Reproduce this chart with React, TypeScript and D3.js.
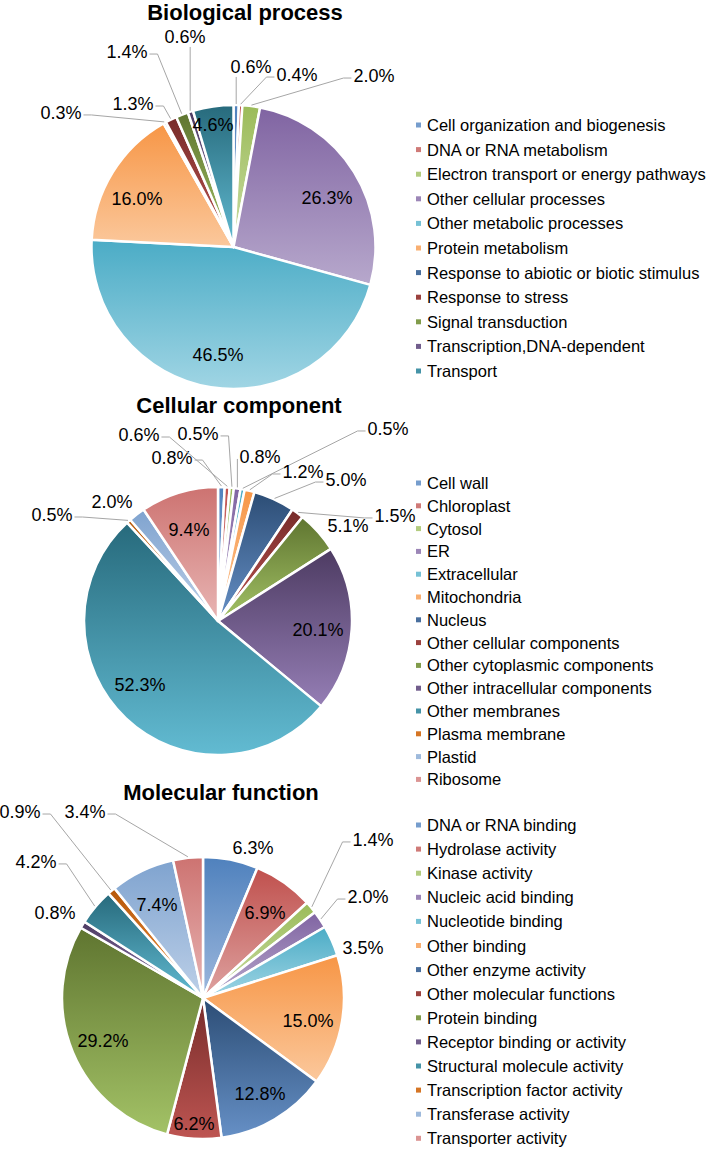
import React from 'react';
import * as d3 from 'd3';

// ---------- DATA ----------
const bpCategories = [
  'Cell organization and biogenesis',
  'DNA or RNA metabolism',
  'Electron transport or energy pathways',
  'Other cellular processes',
  'Other metabolic processes',
  'Protein metabolism',
  'Response to abiotic or biotic stimulus',
  'Response to stress',
  'Signal transduction',
  'Transcription,DNA-dependent',
  'Transport',
];
const bpValues = [0.6, 0.4, 2.0, 26.3, 46.5, 16.0, 0.3, 1.3, 1.4, 0.6, 4.6];

const ccCategories = [
  'Cell wall',
  'Chloroplast',
  'Cytosol',
  'ER',
  'Extracellular',
  'Mitochondria',
  'Nucleus',
  'Other cellular components',
  'Other cytoplasmic components',
  'Other intracellular components',
  'Other membranes',
  'Plasma membrane',
  'Plastid',
  'Ribosome',
];
const ccValues = [0.8, 0.6, 0.5, 0.8, 0.5, 1.2, 5.0, 1.5, 5.1, 20.1, 52.3, 0.5, 2.0, 9.4];

const mfCategories = [
  'DNA or RNA binding',
  'Hydrolase activity',
  'Kinase activity',
  'Nucleic acid binding',
  'Nucleotide binding',
  'Other binding',
  'Other enzyme activity',
  'Other molecular functions',
  'Protein binding',
  'Receptor binding or activity',
  'Structural molecule activity',
  'Transcription factor activity',
  'Transferase activity',
  'Transporter activity',
];
const mfValues = [6.3, 6.9, 1.4, 2.0, 3.5, 15.0, 12.8, 6.2, 29.2, 0.8, 4.2, 0.9, 7.4, 3.4];

const chartTitles = ['Biological process', 'Cellular component', 'Molecular function'];

// ---------- STYLE / LAYOUT ----------
// gradient [top, bottom] per series index (Office palette)
const palette: [string, string][] = [
  ['#4F81BD', '#9DB8DD'],
  ['#C0504D', '#DEA3A1'],
  ['#9BBB59', '#CADDA5'],
  ['#8064A2', '#B7A8CC'],
  ['#4BACC6', '#A0D5E4'],
  ['#F79646', '#FBC89C'],
  ['#2C4D75', '#6690C6'],
  ['#772C2A', '#BE5552'],
  ['#5F7530', '#A3C266'],
  ['#4D3B62', '#957EB5'],
  ['#276A7C', '#62BBD2'],
  ['#B65708', '#F3923F'],
  ['#7FA3CF', '#BDD0E8'],
  ['#CD7371', '#E8B5B4'],
];

// label placement relative to pie centre, in units of radius: [fx, fy, leader]
const bpLabelPos: [number, number, boolean][] = [
  [0.123, -1.268, true],
  [0.447, -1.211, true],
  [0.989, -1.204, true],
  [0.658, -0.345, false],
  [-0.109, 0.761, false],
  [-0.68, -0.338, false],
  [-1.215, -0.944, true],
  [-0.708, -1.007, true],
  [-0.75, -1.373, true],
  [-0.342, -1.479, true],
  [-0.144, -0.859, false],
];
const ccLabelPos: [number, number, boolean][] = [
  [-0.343, -1.216, true],
  [-0.59, -1.388, true],
  [-0.149, -1.396, true],
  [0.313, -1.224, true],
  [1.269, -1.433, true],
  [0.634, -1.112, true],
  [0.955, -1.052, true],
  [1.321, -0.784, true],
  [0.97, -0.709, false],
  [0.746, 0.067, false],
  [-0.582, 0.478, false],
  [-1.239, -0.791, true],
  [-0.791, -0.888, false],
  [-0.216, -0.679, false],
];
const mfLabelPos: [number, number, boolean][] = [
  [0.355, -1.064, false],
  [0.44, -0.603, false],
  [1.206, -1.121, true],
  [1.17, -0.716, true],
  [1.135, -0.355, false],
  [0.745, 0.163, false],
  [0.404, 0.681, false],
  [-0.064, 0.894, false],
  [-0.709, 0.305, false],
  [-1.05, -0.603, false],
  [-1.184, -0.965, true],
  [-1.298, -1.319, true],
  [-0.326, -0.66, false],
  [-0.837, -1.319, true],
];

const charts = [
  { title: chartTitles[0], cats: bpCategories, vals: bpValues, cx: 233.5, cy: 247, r: 142, tx: 245, ty: 20, lx: 416, ly0: 125, lstep: 24.6, pos: bpLabelPos },
  { title: chartTitles[1], cats: ccCategories, vals: ccValues, cx: 218, cy: 621, r: 134, tx: 239, ty: 413, lx: 416, ly0: 483, lstep: 22.8, pos: ccLabelPos },
  { title: chartTitles[2], cats: mfCategories, vals: mfValues, cx: 203, cy: 998, r: 141, tx: 221, ty: 800, lx: 416, ly0: 825, lstep: 24.1, pos: mfLabelPos },
];

const FONT = "'Liberation Sans', Arial, Helvetica, sans-serif";
const LABEL_FS = 18;

function textWidth(s: string, fs: number) {
  let w = 0;
  for (const ch of s) {
    if (ch === '.') w += 0.278;
    else if (ch === '%') w += 0.889;
    else w += 0.556;
  }
  return w * fs;
}

function PieChart({ c }: { c: (typeof charts)[number] }) {
  const pie = d3.pie<number>().sort(null).value((d) => d);
  const arcs = pie(c.vals);
  const arcGen = d3.arc<d3.PieArcDatum<number>>().innerRadius(0).outerRadius(c.r);
  return (
    <g>
      <text x={c.tx} y={c.ty} textAnchor="middle" fontWeight="bold" fontSize={22} fill="#000">
        {c.title}
      </text>
      <g transform={`translate(${c.cx},${c.cy})`}>
        {arcs.map((a, i) => (
          <path key={i} d={arcGen(a) || ''} fill={`url(#grad${i})`} stroke="#fff" strokeWidth={2.5} strokeLinejoin="round" />
        ))}
      </g>
      {arcs.map((a, i) => {
        const [fx, fy, lead] = c.pos[i];
        const lx = c.cx + fx * c.r;
        const ly = c.cy + fy * c.r;
        const label = c.vals[i].toFixed(1) + '%';
        let leader = null;
        if (lead) {
          const mid = (a.startAngle + a.endAngle) / 2;
          const sx = c.cx + (c.r + 1) * Math.sin(mid);
          const sy = c.cy - (c.r + 1) * Math.cos(mid);
          const hw = textWidth(label, LABEL_FS) / 2;
          const left = lx - hw;
          const right = lx + hw;
          let d: string;
          if (sx >= left && sx <= right) {
            d = `M${sx},${sy}L${sx},${ly + 10}`;
          } else if (sx < left) {
            const ax = left - 2;
            const ex = ax - Math.min(8, ax - sx);
            d = `M${sx},${sy}L${ex},${ly + 2}L${ax},${ly + 2}`;
          } else {
            const ax = right + 2;
            const ex = ax + Math.min(8, sx - ax);
            d = `M${sx},${sy}L${ex},${ly + 2}L${ax},${ly + 2}`;
          }
          leader = <path d={d} fill="none" stroke="#A6A6A6" strokeWidth={1} />;
        }
        return (
          <g key={i}>
            {leader}
            <text x={lx} y={ly} textAnchor="middle" dominantBaseline="central" fontSize={LABEL_FS} fill="#000">
              {label}
            </text>
          </g>
        );
      })}
      {c.cats.map((name, i) => {
        const y = c.ly0 + i * c.lstep;
        const col = d3.interpolateRgb(palette[i][0], palette[i][1])(0.5);
        return (
          <g key={name}>
            <rect x={c.lx} y={y - 2.5} width={5} height={5} fill={col} />
            <text x={c.lx + 11} y={y} dominantBaseline="central" fontSize={16.5} fill="#000">
              {name}
            </text>
          </g>
        );
      })}
    </g>
  );
}

export default function App() {
  return (
    <svg
      width={709}
      height={1149}
      style={{ position: 'absolute', left: 0, top: 0, background: '#fff' }}
      fontFamily={FONT}
    >
      <defs>
        {palette.map(([top, bottom], i) => (
          <linearGradient key={i} id={`grad${i}`} x1="0" y1="0" x2="0" y2="1">
            <stop offset="0" stopColor={top} />
            <stop offset="1" stopColor={bottom} />
          </linearGradient>
        ))}
      </defs>
      <rect width={709} height={1149} fill="#fff" />
      {charts.map((c) => (
        <PieChart key={c.title} c={c} />
      ))}
    </svg>
  );
}
